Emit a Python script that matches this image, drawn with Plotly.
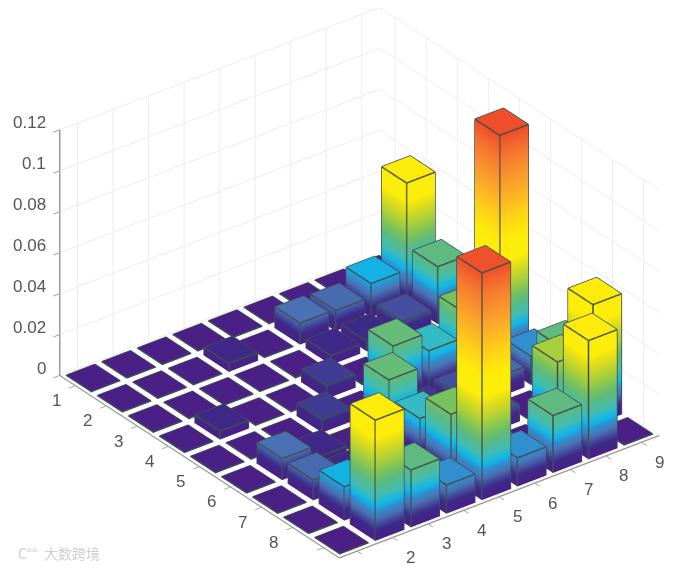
import numpy as np
import plotly.graph_objects as go

# bar heights, row = left axis, column = right axis
row_1 = [0, 0, 0, 0, 0, 0, 0, 0, 0]
row_2 = [0, 0, 0, 0.004, 0, 0.0105, 0.01, 0.0165, 0.059]
row_3 = [0, 0, 0, 0, 0, 0.0045, 0.005, 0.008, 0.028]
row_4 = [0, 0.004, 0, 0, 0.0065, 0, 0, 0, 0.014]
row_5 = [0, 0, 0, 0.0065, 0, 0.029, 0.02, 0.032, 0.112]
row_6 = [0, 0.0105, 0.0045, 0, 0.029, 0.006, 0.008, 0.01, 0.014]
row_7 = [0, 0.01, 0.005, 0, 0.02, 0.008, 0.008, 0, 0.028]
row_8 = [0, 0.0165, 0.008, 0, 0.032, 0.01, 0, 0.0376, 0.059]
row_9 = [0, 0.059, 0.028, 0.014, 0.111, 0.014, 0.028, 0.058, 0]
rows = [row_1, row_2, row_3, row_4, row_5, row_6, row_7, row_8, row_9]

x_ticks = [1, 2, 3, 4, 5, 6, 7, 8, 9]
y_ticks = [1, 2, 3, 4, 5, 6, 7, 8, 9]
z_ticks = [0, 0.02, 0.04, 0.06, 0.08, 0.1, 0.12]
z_labels = ['0', '0.02', '0.04', '0.06', '0.08', '0.1', '0.12']
# the photo is cropped at the bottom, so x=9 and y=1 have no label left
x_labels = [1, 2, 3, 4, 5, 6, 7, 8]
y_labels = [2, 3, 4, 5, 6, 7, 8, 9]

Z_MAX = 0.112
FLAT = 0.0004
HALF = 0.4

color_stops = [
    (0, '#4a1f86'), (0.005, '#3d2a88'), (0.0065, '#413f96'), (0.0105, '#4a74b4'),
    (0.014, '#2f8fd0'), (0.0165, '#10b6e8'), (0.021, '#40bcb4'), (0.028, '#5fba7d'),
    (0.032, '#78c25c'), (0.0376, '#a8cf3c'), (0.045, '#dcdc1c'), (0.05, '#fdee0a'),
    (0.06, '#fdec0a'), (0.07, '#fdd416'), (0.085, '#fba52a'), (0.1, '#f57a30'),
    (0.112, '#ef4e2a'),
]
colorscale = [[z / Z_MAX, c] for z, c in color_stops]

label_font = dict(family='Liberation Sans', size=17, color='#555555')
mark_font = dict(family='Noto Sans CJK SC', size=14, color='#cfcfcf')


def bar_mesh():
    """Collect vertices and triangles of all bars in one mesh."""
    xs, ys, zs, i, j, k = [], [], [], [], [], []
    faces = [(0, 1, 2), (0, 2, 3), (4, 5, 6), (4, 6, 7),
             (0, 1, 5), (0, 5, 4), (1, 2, 6), (1, 6, 5),
             (2, 3, 7), (2, 7, 6), (3, 0, 4), (3, 4, 7)]
    for r, row in enumerate(rows, start=1):
        for c, h in enumerate(row, start=1):
            n = len(xs)
            h = max(h, FLAT)
            for z in (0, h):
                xs += [r - HALF, r + HALF, r + HALF, r - HALF]
                ys += [c - HALF, c - HALF, c + HALF, c + HALF]
                zs += [z] * 4
            for a, b, d in faces:
                i.append(n + a)
                j.append(n + b)
                k.append(n + d)
    return xs, ys, zs, i, j, k


def bar_edges():
    """Outline of every bar as one broken line."""
    xs, ys, zs = [], [], []
    for r, row in enumerate(rows, start=1):
        for c, h in enumerate(row, start=1):
            h = max(h, FLAT)
            cx = [r - HALF, r + HALF, r + HALF, r - HALF]
            cy = [c - HALF, c - HALF, c + HALF, c + HALF]
            xs += cx + cx[:1] + [None]
            ys += cy + cy[:1] + [None]
            zs += [h] * 5 + [None]
            for px, py in zip(cx, cy):
                xs += [px, px, None]
                ys += [py, py, None]
                zs += [0, h, None]
    return xs, ys, zs


def tick_annotations():
    """Tick labels as text next to the axes, the built in ones sit too close."""
    notes = []
    for v in x_labels:
        notes.append(dict(x=v, y=0.5, z=0, text=str(v), xshift=-19, yshift=-15))
    for v in y_labels:
        notes.append(dict(x=9.5, y=v, z=0, text=str(v), xshift=18, yshift=-20))
    for v, t in zip(z_ticks, z_labels):
        notes.append(dict(x=0.5, y=0.5, z=v, text=t, xshift=-12, yshift=7, xanchor='right'))
    for n in notes:
        n.update(showarrow=False, font=label_font)
    return notes


xs, ys, zs, i, j, k = bar_mesh()
ex, ey, ez = bar_edges()

fig = go.Figure()
fig.add_trace(go.Mesh3d(
    x=xs, y=ys, z=zs, i=i, j=j, k=k,
    intensity=zs,
    colorscale=colorscale,
    cmin=0,
    cmax=Z_MAX,
    showscale=False,
    flatshading=True,
    lighting=dict(ambient=1, diffuse=0, specular=0, fresnel=0),
    hoverinfo='skip',
))
fig.add_trace(go.Scatter3d(
    x=ex, y=ey, z=ez,
    mode='lines',
    line=dict(color='#3f4f52', width=3),
    hoverinfo='skip',
    showlegend=False,
))

# view of 37.5 deg azimuth and 30 deg elevation
view = np.array([0.794, -0.608, 0.577])
pan = np.array([-0.0243, -0.0401, -0.0109])
eye = pan + view * 1.6

axis_style = dict(
    showbackground=False,
    showgrid=True,
    gridcolor='#ececec',
    gridwidth=2,
    showline=True,
    linecolor='#9c9c9c',
    linewidth=3,
    ticks='outside',
    ticklen=8,
    tickcolor='#9c9c9c',
    tickwidth=2,
    showticklabels=False,
    zeroline=False,
    title=dict(text=''),
    showspikes=False,
)

fig.update_layout(
    width=677,
    height=568,
    margin=dict(l=0, r=0, t=0, b=12),
    paper_bgcolor='white',
    showlegend=False,
    scene=dict(
        bgcolor='white',
        aspectmode='manual',
        aspectratio=dict(x=1.654, y=1.449, z=1.02),
        xaxis=dict(axis_style, range=[0.5, 9.5], tickvals=x_ticks),
        yaxis=dict(axis_style, range=[0.5, 9.5], tickvals=y_ticks),
        zaxis=dict(axis_style, range=[0, 0.12], tickvals=z_ticks),
        camera=dict(
            projection=dict(type='orthographic'),
            up=dict(x=0, y=0, z=1),
            center=dict(x=pan[0], y=pan[1], z=pan[2]),
            eye=dict(x=eye[0], y=eye[1], z=eye[2]),
        ),
        annotations=tick_annotations(),
    ),
    annotations=[
        dict(text='C°°', xref='paper', yref='paper', x=0.012, y=0.02,
             xanchor='left', yanchor='middle', showarrow=False, font=mark_font),
        dict(text='大数跨境', xref='paper', yref='paper', x=0.05, y=0.02,
             xanchor='left', yanchor='middle', showarrow=False, font=mark_font),
    ],
)

fig.write_html("out.html")
